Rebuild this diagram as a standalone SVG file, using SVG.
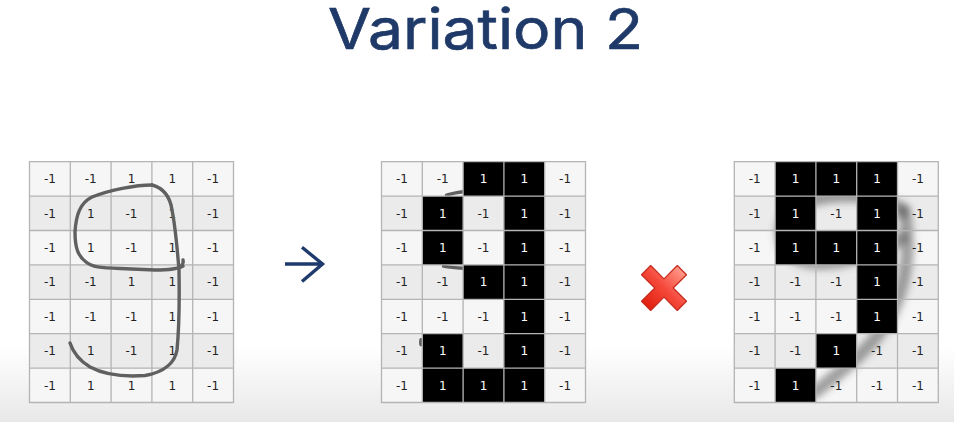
<svg xmlns="http://www.w3.org/2000/svg" width="954" height="422" viewBox="0 0 954 422">
<defs>
<style>
.c{fill:#f6f6f6}.c2{fill:#ebebeb}.b{fill:#000}
.g{fill:none;stroke:#b4b4b4;stroke-width:1.3}
.t{font-family:"DejaVu Sans",sans-serif;font-size:12px;fill:#222;text-anchor:middle}
.w{fill:#fff}
.pen{fill:none;stroke:#606060;stroke-width:3.4;stroke-linecap:round;stroke-linejoin:round}
</style>
<linearGradient id="bg" x1="0" y1="0" x2="0" y2="1">
<stop offset="0" stop-color="#ffffff"/><stop offset="0.82" stop-color="#ffffff"/><stop offset="1" stop-color="#e8e8e8"/>
</linearGradient>
<linearGradient id="red" x1="0" y1="0" x2="0" y2="1">
<stop offset="0" stop-color="#ff9a8a"/><stop offset="0.5" stop-color="#f5483a"/><stop offset="1" stop-color="#e0200f"/>
</linearGradient>
<filter id="blur" x="-30%" y="-30%" width="160%" height="160%"><feGaussianBlur stdDeviation="3.5"/></filter>
<path id="lines" d="M40.8 0V240.8M81.6 0V240.8M122.4 0V240.8M163.2 0V240.8M0 34.4H204M0 68.8H204M0 103.2H204M0 137.6H204M0 172H204M0 206.4H204M0 0H204V240.8H0Z"/>
<g id="rows">
<rect class="c" x="0" y="0" width="204" height="34.4"/>
<rect class="c2" x="0" y="34.4" width="204" height="34.4"/>
<rect class="c" x="0" y="68.8" width="204" height="34.4"/>
<rect class="c2" x="0" y="103.2" width="204" height="34.4"/>
<rect class="c" x="0" y="137.6" width="204" height="34.4"/>
<rect class="c2" x="0" y="172" width="204" height="34.4"/>
<rect class="c" x="0" y="206.4" width="204" height="34.4"/>
</g>
</defs>
<rect x="0" y="0" width="954" height="422" fill="url(#bg)"/>
<text id="title" x="485.5" y="48.5" font-family="Inter, 'Open Sans', sans-serif" font-weight="400" font-size="56" fill="#1f3a68" stroke="#1f3a68" stroke-width="0.7" text-anchor="middle" textLength="315" lengthAdjust="spacingAndGlyphs">Variation 2</text>

<g id="grid1">
<g transform="translate(29.5,161.7)">
<use href="#rows"/>
<use href="#lines" class="g"/>
<g class="t">
<text x="20.4" y="21.6">-1</text><text x="61.2" y="21.6">-1</text><text x="102" y="21.6">1</text><text x="142.8" y="21.6">1</text><text x="183.6" y="21.6">-1</text>
<text x="20.4" y="56">-1</text><text x="61.2" y="56">1</text><text x="102" y="56">-1</text><text x="142.8" y="56">1</text><text x="183.6" y="56">-1</text>
<text x="20.4" y="90.4">-1</text><text x="61.2" y="90.4">1</text><text x="102" y="90.4">-1</text><text x="142.8" y="90.4">1</text><text x="183.6" y="90.4">-1</text>
<text x="20.4" y="124.8">-1</text><text x="61.2" y="124.8">-1</text><text x="102" y="124.8">1</text><text x="142.8" y="124.8">1</text><text x="183.6" y="124.8">-1</text>
<text x="20.4" y="159.2">-1</text><text x="61.2" y="159.2">-1</text><text x="102" y="159.2">-1</text><text x="142.8" y="159.2">1</text><text x="183.6" y="159.2">-1</text>
<text x="20.4" y="193.6">-1</text><text x="61.2" y="193.6">1</text><text x="102" y="193.6">-1</text><text x="142.8" y="193.6">1</text><text x="183.6" y="193.6">-1</text>
<text x="20.4" y="228">-1</text><text x="61.2" y="228">1</text><text x="102" y="228">1</text><text x="142.8" y="228">1</text><text x="183.6" y="228">-1</text>
</g>
</g>
<path class="pen" d="M152 185C135 185 110 190 92 197C80 203 76 215 75 232C75 248 78 256 86 262C92 267 100 268 120 268.5L155 270C168 270 178 269 183 266"/>
<path class="pen" d="M152 185C163 188 170 196 172 210C175 225 177 245 179 270C179.5 300 179 330 177 350C175 362 165 372 145 375.5C125 377 105 375 90 367C80 361 73 352 70 343"/>
<path class="pen" d="M180 267Q184 264 183 260"/>
</g>

<g id="grid2">
<g transform="translate(381.5,161.7)">
<use href="#rows"/>
<path class="pen" d="M65 33.5Q75 30.5 81.6 30"/>
<path class="pen" d="M62 104.5Q70 106 81.6 106.5"/>
<path class="pen" d="M39.5 178Q39 181 39.5 183" stroke-width="2"/>
<g class="b">
<rect x="81.6" y="0" width="81.6" height="34.4"/>
<rect x="40.8" y="34.4" width="40.8" height="68.8"/>
<rect x="122.4" y="34.4" width="40.8" height="206.4"/>
<rect x="81.6" y="103.2" width="40.8" height="34.4"/>
<rect x="40.8" y="172" width="40.8" height="68.8"/>
<rect x="81.6" y="206.4" width="40.8" height="34.4"/>
</g>
<use href="#lines" class="g"/>
<g class="t">
<text x="20.4" y="21.6">-1</text><text x="61.2" y="21.6">-1</text><text class="w" x="102" y="21.6">1</text><text class="w" x="142.8" y="21.6">1</text><text x="183.6" y="21.6">-1</text>
<text x="20.4" y="56">-1</text><text class="w" x="61.2" y="56">1</text><text x="102" y="56">-1</text><text class="w" x="142.8" y="56">1</text><text x="183.6" y="56">-1</text>
<text x="20.4" y="90.4">-1</text><text class="w" x="61.2" y="90.4">1</text><text x="102" y="90.4">-1</text><text class="w" x="142.8" y="90.4">1</text><text x="183.6" y="90.4">-1</text>
<text x="20.4" y="124.8">-1</text><text x="61.2" y="124.8">-1</text><text class="w" x="102" y="124.8">1</text><text class="w" x="142.8" y="124.8">1</text><text x="183.6" y="124.8">-1</text>
<text x="20.4" y="159.2">-1</text><text x="61.2" y="159.2">-1</text><text x="102" y="159.2">-1</text><text class="w" x="142.8" y="159.2">1</text><text x="183.6" y="159.2">-1</text>
<text x="20.4" y="193.6">-1</text><text class="w" x="61.2" y="193.6">1</text><text x="102" y="193.6">-1</text><text class="w" x="142.8" y="193.6">1</text><text x="183.6" y="193.6">-1</text>
<text x="20.4" y="228">-1</text><text class="w" x="61.2" y="228">1</text><text class="w" x="102" y="228">1</text><text class="w" x="142.8" y="228">1</text><text x="183.6" y="228">-1</text>
</g>
</g>
</g>

<g id="grid3">
<g transform="translate(734.3,161.7)"><use href="#rows"/></g>
<g filter="url(#blur)" fill="none" stroke="#4a4a4a" stroke-opacity="0.5" stroke-width="13" stroke-linecap="round">
<path d="M903 212C890 196 845 192 812 200C786 207 778 225 782 240C786 255 800 263 820 263C850 263 880 252 902 238"/>
<path d="M904 210C912 250 905 290 888 320C872 348 845 368 815 392"/>
</g>
<g transform="translate(734.3,161.7)">
<g class="b">
<rect x="40.8" y="0" width="122.4" height="34.4"/>
<rect x="40.8" y="34.4" width="40.8" height="68.8"/>
<rect x="122.4" y="34.4" width="40.8" height="137.6"/>
<rect x="81.6" y="68.8" width="40.8" height="34.4"/>
<rect x="81.6" y="172" width="40.8" height="34.4"/>
<rect x="40.8" y="206.4" width="40.8" height="34.4"/>
</g>
<use href="#lines" class="g"/>
<g class="t">
<text x="20.4" y="21.6">-1</text><text class="w" x="61.2" y="21.6">1</text><text class="w" x="102" y="21.6">1</text><text class="w" x="142.8" y="21.6">1</text><text x="183.6" y="21.6">-1</text>
<text x="20.4" y="56">-1</text><text class="w" x="61.2" y="56">1</text><text x="102" y="56">-1</text><text class="w" x="142.8" y="56">1</text><text x="183.6" y="56">-1</text>
<text x="20.4" y="90.4">-1</text><text class="w" x="61.2" y="90.4">1</text><text class="w" x="102" y="90.4">1</text><text class="w" x="142.8" y="90.4">1</text><text x="183.6" y="90.4">-1</text>
<text x="20.4" y="124.8">-1</text><text x="61.2" y="124.8">-1</text><text x="102" y="124.8">-1</text><text class="w" x="142.8" y="124.8">1</text><text x="183.6" y="124.8">-1</text>
<text x="20.4" y="159.2">-1</text><text x="61.2" y="159.2">-1</text><text x="102" y="159.2">-1</text><text class="w" x="142.8" y="159.2">1</text><text x="183.6" y="159.2">-1</text>
<text x="20.4" y="193.6">-1</text><text x="61.2" y="193.6">-1</text><text class="w" x="102" y="193.6">1</text><text x="142.8" y="193.6">-1</text><text x="183.6" y="193.6">-1</text>
<text x="20.4" y="228">-1</text><text class="w" x="61.2" y="228">1</text><text x="102" y="228">-1</text><text x="142.8" y="228">-1</text><text x="183.6" y="228">-1</text>
</g>
</g>
</g>

<g id="connectors">
<path d="M285 264H322.5M302 247.3L322.5 264L302 281.5" fill="none" stroke="#1f3b6e" stroke-width="3.4"/>
</g>

<g id="cross">
<polygon transform="translate(664,288) rotate(45)" points="-6.5,-25.3 6.5,-25.3 6.5,-6.5 25.3,-6.5 25.3,6.5 6.5,6.5 6.5,25.3 -6.5,25.3 -6.5,6.5 -25.3,6.5 -25.3,-6.5 -6.5,-6.5" fill="url(#red)" stroke="#c62a1c" stroke-width="1.2" stroke-linejoin="round"/>
</g>
</svg>
